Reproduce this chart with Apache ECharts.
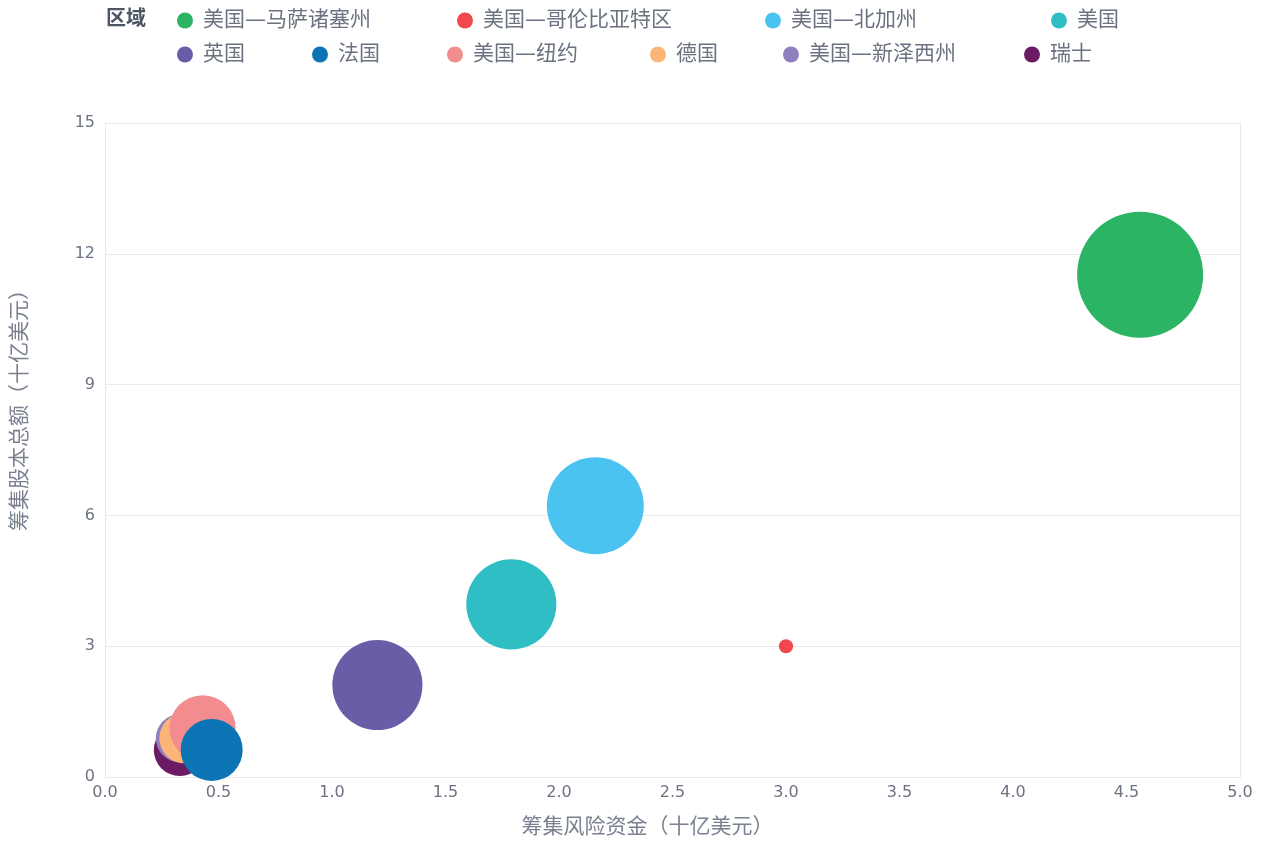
<!DOCTYPE html>
<html>
<head>
<meta charset="utf-8">
<script src="https://cdn.jsdelivr.net/npm/echarts@6/dist/echarts.min.js"></script>
<style>
html,body{margin:0;padding:0;background:#fff;}
#c{width:1265px;height:843px;}
</style>
</head>
<body>
<div id="c"></div>
<script>
// Legend order
var regions = ['美国—马萨诸塞州','美国—哥伦比亚特区','美国—北加州','美国','英国','法国','美国—纽约','德国','美国—新泽西州','瑞士'];
// Venture capital raised (billion USD)
var ventureFunds = [4.56, 3.00, 2.16, 1.79, 1.20, 0.47, 0.43, 0.35, 0.33, 0.33];
// Total equity raised (billion USD)
var equityRaised = [11.52, 3.00, 6.22, 3.96, 2.11, 0.62, 1.12, 0.89, 0.89, 0.62];
// Bubble size measure
var bubbleSize = [397, 5, 235, 203, 203, 96, 109, 63, 58, 68];
var colors = ['#2cb465','#f0484e','#4bc3f1','#2fbec3','#6a5da8','#0b74b4','#f28c8e','#fcb577','#8f80c0','#6a1b63'];
var xTicks = {min: 0, max: 5, interval: 0.5};
var yTicks = {min: 0, max: 15, interval: 3};

var legendCenters = [[185,18],[465,18],[773,18],[1059,18],[185,52],[320,52],[455,52],[658,52],[791,52],[1032,52]];

var FONT = '"DejaVu Sans", "Noto Sans CJK SC", sans-serif';
var chart = echarts.init(document.getElementById('c'), null, {renderer: 'canvas'});
var series = [];
// draw in reverse legend order so earlier regions sit on top
for (var i = regions.length - 1; i >= 0; i--) {
  series.push({
    name: regions[i],
    type: 'scatter',
    data: [[ventureFunds[i], equityRaised[i], bubbleSize[i]]],
    symbolSize: function (v) { return 2 * Math.sqrt(v[2] * 10); },
    itemStyle: {color: colors[i], opacity: 1},
    emphasis: {disabled: true}
  });
}
var legends = regions.map(function (r, i) {
  return {
    data: [r],
    left: legendCenters[i][0] - 8,
    top: legendCenters[i][1] - 8,
    padding: 0,
    icon: 'circle',
    itemWidth: 16,
    itemHeight: 16,
    itemGap: 0,
    textStyle: {fontSize: 21, color: '#6b7280', padding: [0, 0, 0, 5], fontFamily: FONT}
  };
});
var textColor = '#6b7280';
var lineColor = '#e8eaed';
chart.setOption({
  backgroundColor: '#fff',
  color: colors,
  animation: false,
  title: {
    text: '区域', left: 101, top: 5,
    textStyle: {fontSize: 20, fontWeight: 'bold', color: '#4b5563', fontFamily: FONT}
  },
  legend: legends,
  grid: {left: 105, right: 25, top: 123, bottom: 64, containLabel: false},
  xAxis: {
    type: 'value', min: xTicks.min, max: xTicks.max, interval: xTicks.interval,
    name: '筹集风险资金（十亿美元）', nameLocation: 'middle', nameGap: 40,
    nameTextStyle: {fontSize: 21, color: '#7b8190', padding: [0, 50, 0, 0], fontFamily: FONT},
    axisLine: {show: true, lineStyle: {color: lineColor}},
    axisTick: {show: false},
    axisLabel: {fontSize: 16, color: textColor, margin: 8, fontFamily: FONT,
      formatter: function (v) { return v.toFixed(1); }},
    splitLine: {show: false}
  },
  yAxis: [{
    type: 'value', min: yTicks.min, max: yTicks.max, interval: yTicks.interval,
    name: '筹集股本总额（十亿美元）', nameLocation: 'middle', nameGap: 74,
    nameTextStyle: {fontSize: 21, color: '#7b8190', padding: [0, 0, 0, 90], fontFamily: FONT},
    axisLine: {show: true, lineStyle: {color: lineColor}},
    axisTick: {show: false},
    axisLabel: {fontSize: 16, color: textColor, margin: 10, fontFamily: FONT},
    splitLine: {show: true, lineStyle: {color: lineColor}}
  }, {
    type: 'value', position: 'right', min: yTicks.min, max: yTicks.max, interval: yTicks.interval,
    axisLine: {show: true, onZero: false, lineStyle: {color: lineColor}},
    axisTick: {show: false}, axisLabel: {show: false}, splitLine: {show: false}
  }],
  series: series
});
</script>
</body>
</html>
